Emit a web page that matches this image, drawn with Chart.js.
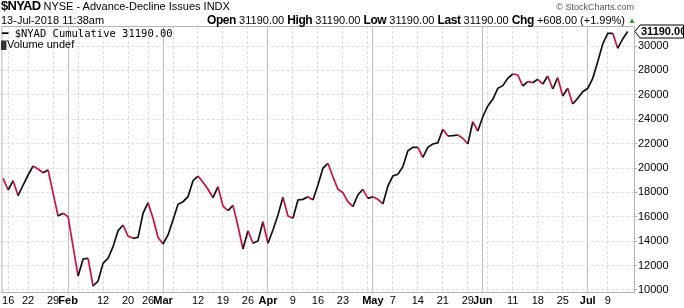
<!DOCTYPE html>
<html>
<head>
<meta charset="utf-8">
<script src="https://cdn.jsdelivr.net/npm/chart.js@4.4.0/dist/chart.umd.min.js"></script>
<style>
  body { margin: 0; background: #fff; }
  #wrap { position: relative; width: 684px; height: 308px; font-family: 'Liberation Sans', Arial, sans-serif; }
  canvas { position: absolute; left: 0; top: 0; }
  .t { position: absolute; white-space: nowrap; color: #000; font-size: 11px; line-height: 12px; }
  .b { font-weight: bold; font-size: 12px; letter-spacing: -0.4px; }
</style>
</head>
<body>
<div id="wrap">
  <canvas id="myChart" width="684" height="308"></canvas>
  <div class="t" style="left:1px;top:0px;"><span style="font-weight:bold;font-size:13px;letter-spacing:-0.7px;">$NYAD</span> NYSE - Advance-Decline Issues INDX</div>
  <div class="t" style="right:50px;top:1px;color:#555;font-size:9px;">&copy; StockCharts.com</div>
  <div class="t" style="left:1px;top:14px;">13-Jul-2018 11:38am</div>
  <div class="t" style="right:59px;top:14px;"><span class="b">Open</span> 31190.00 <span class="b">High</span> 31190.00 <span class="b">Low</span> 31190.00 <span class="b">Last</span> 31190.00 <span class="b">Chg</span> +608.00 (+1.99%)</div>
  <div class="t" style="left:628px;top:15px;color:#2a9a2a;font-size:8px;">&#9650;</div>
  <div class="t" style="left:2px;top:27px;font-family:'DejaVu Sans Mono', monospace;font-size:10.5px;"><b>&#9473;</b> $NYAD Cumulative 31190.00</div>
  <div class="t" style="left:1px;top:38px;font-size:11px;"><span style="color:#333;font-size:8px;">&#9609;</span>Volume undef</div>
</div>
<script>
// trading days from 12-Jan-2018 to 13-Jul-2018, index 0 = Jan 12
const values = [
  19155, 18196, 18959, 17730, 18606, 19426, 20164, 19918, 19615, 19836,
  17926, 16066, 16286, 16008, 13549, 11147, 12540, 12598, 10327, 10737,
  12188, 12598, 13549, 14860, 15327, 14426, 14237, 14320, 16286, 17156,
  15877, 14320, 13770, 14508, 15737, 17024, 17237, 17647, 18959, 19344,
  18828, 18254, 17565, 18467, 16885, 16500, 16940, 15250, 13360, 14860,
  13827, 14016, 15598, 13827, 14918, 16147, 17598, 16066, 15877, 17377,
  17433, 17647, 17377, 18606, 19975, 20385, 19287, 18254, 17975, 17237,
  16828, 17787, 18254, 17515, 17647, 17433, 17049, 18524, 19344, 19484,
  20107, 21418, 21697, 21697, 20877, 21697, 21967, 22074, 23172, 22623,
  22648, 22705, 22434, 21967, 23795, 23033, 24205, 25082, 25631, 26533,
  26746, 27352, 27705, 27623, 26721, 27074, 26992, 27270, 26885, 27541,
  26476, 27402, 25902, 26533, 25246, 25713, 26254, 26533, 27352, 28713,
  30164, 31041, 31041, 29811, 30582, 31190
];

// x gridlines (trading day index) and their labels; month starts are bold
const tickIdx   = [1, 5, 10, 13, 15, 20, 25, 29, 32, 34, 39, 44, 49, 53, 58, 63, 68, 73, 74, 78, 83, 88, 93, 96, 97, 102, 107, 112, 117, 121];
const tickText  = ['16', '22', '29', 'Feb', '', '12', '20', '26', 'Mar', '', '12', '19', '26', 'Apr', '9', '16', '23', '', 'May', '7', '14', '21', '29', 'Jun', '', '11', '18', '25', 'Jul', '9'];
const monthTick = ['Feb', 'Mar', 'Apr', 'May', 'Jun', 'Jul'];

const yTicks = [10000, 12000, 14000, 16000, 18000, 20000, 22000, 24000, 26000, 28000, 30000];

const RED = '#d0103c';
const BLACK = '#111';

const isMonth = i => monthTick.includes(tickText[i]);

const frame = {
  id: 'frame',
  beforeDatasetsDraw(chart) {
    const a = chart.chartArea, c = chart.ctx;
    c.save();
    c.strokeStyle = '#b4b4b4';
    c.lineWidth = 1;
    c.strokeRect(a.left + 0.5, a.top + 0.5, a.right - a.left, a.bottom - a.top);
    c.restore();
  },
  afterDraw(chart) {
    // last price tag on the right axis
    const c = chart.ctx, y = chart.scales.y;
    const last = values[values.length - 1];
    const py = Math.round(y.getPixelForValue(last)) + 0.5;
    const x0 = chart.chartArea.right + 1, h = 13;
    c.save();
    c.fillStyle = '#fff';
    c.strokeStyle = '#000';
    c.lineWidth = 1;
    c.beginPath();
    c.moveTo(x0, py);
    c.lineTo(x0 + 5, py - h / 2);
    c.lineTo(683.5, py - h / 2);
    c.lineTo(683.5, py + h / 2);
    c.lineTo(x0 + 5, py + h / 2);
    c.closePath();
    c.fill();
    c.stroke();
    c.fillStyle = '#000';
    c.font = 'bold 11px "Liberation Sans", Arial, sans-serif';
    c.textBaseline = 'middle';
    c.textAlign = 'left';
    c.fillText(last.toFixed(2), x0 + 6, py + 0.5);
    c.restore();
  }
};

const ctx = document.getElementById('myChart').getContext('2d');
const myChart = new Chart(ctx, {
  type: 'line',
  data: {
    datasets: [{
      data: values.map((v, i) => ({ x: i, y: v })),
      borderWidth: 1.7,
      pointRadius: 0,
      tension: 0,
      borderColor: BLACK,
      segment: {
        borderColor: c => c.p1.parsed.y < c.p0.parsed.y ? RED : BLACK
      }
    }]
  },
  options: {
    responsive: false,
    animation: false,
    layout: { padding: { left: 1, top: 26, right: 0, bottom: 0 } },
    plugins: { legend: { display: false }, tooltip: { enabled: false } },
    scales: {
      x: {
        type: 'linear',
        min: -0.34,
        max: 126.26,
        afterBuildTicks: s => { s.ticks = tickIdx.map(v => ({ value: v })); },
        afterFit: s => { s.height = 16; },
        ticks: {
          autoSkip: false,
          maxRotation: 0,
          padding: 2,
          color: '#000',
          font: c => ({ family: "'Liberation Sans', Arial, sans-serif", size: 11, weight: isMonth(c.index) ? 'bold' : 'normal' }),
          callback: (v, i) => tickText[i]
        },
        grid: {
          drawTicks: false,
          color: c => isMonth(c.index) ? '#bdbdbd' : '#dcdcdc',
          lineWidth: 1
        },
        border: {
          color: '#b4b4b4',
          dash: c => isMonth(c.index) ? [] : [3, 2]
        }
      },
      y: {
        position: 'right',
        min: 9836,
        max: 31640,
        afterBuildTicks: s => { s.ticks = yTicks.map(v => ({ value: v })); },
        afterFit: s => { s.width = 50; },
        ticks: {
          padding: 1,
          color: '#000',
          font: { family: "'Liberation Sans', Arial, sans-serif", size: 11 },
          callback: v => String(v)
        },
        grid: {
          color: '#dcdcdc',
          tickLength: 3,
          tickColor: '#b4b4b4'
        },
        border: { color: '#b4b4b4', dash: [3, 2] }
      }
    }
  },
  plugins: [frame]
});
</script>
</body>
</html>
